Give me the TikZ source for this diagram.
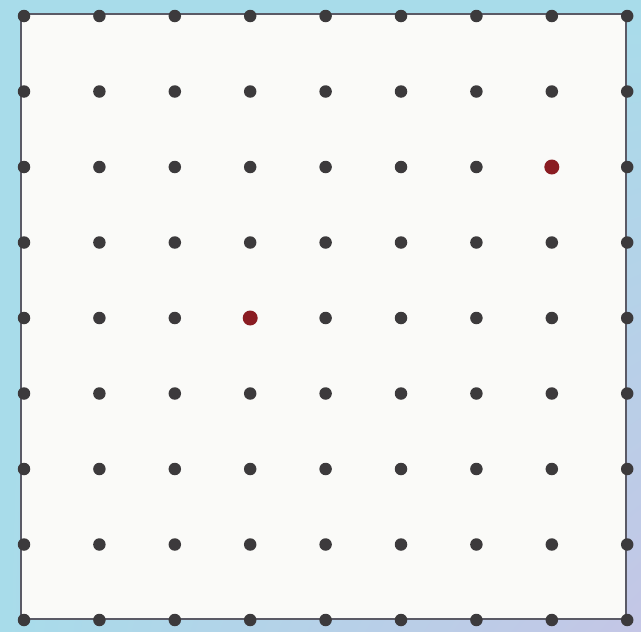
\documentclass[tikz,border=0pt]{standalone}
\usetikzlibrary{shadings}
\definecolor{bgblue}{HTML}{A8DCEA}
\definecolor{bglav}{HTML}{C4C6E6}
\definecolor{paper}{HTML}{FAFAF8}
\definecolor{dotgray}{HTML}{3C3A3C}
\definecolor{dotred}{HTML}{8A1C22}
\definecolor{framegray}{HTML}{5A5A66}
\tikzset{
  peg/.style={circle, fill=dotgray, inner sep=0pt, minimum size=12.5pt},
  redpeg/.style={circle, fill=dotred, inner sep=0pt, minimum size=15pt},
  board/.style={draw=framegray, line width=1.3pt, fill=paper}
}
\begin{document}
\begin{tikzpicture}[x=1pt,y=-1pt]
  \useasboundingbox (0,0) rectangle (641,632);
  \shade[upper left=bgblue, upper right=bgblue, lower left=bgblue, lower right=bglav] (0,0) rectangle (641,632);
  \draw[board] (21,14) rectangle (626,619);
  \foreach \i in {0,...,8} {
    \foreach \j in {0,...,8} {
      \node[peg] (p\i\j) at ({24+75.4*\i},{16+75.5*\j}) {};
    }
  }
  \node[redpeg] (r1) at (p34) {};
  \node[redpeg] (r2) at (p72) {};
\end{tikzpicture}
\end{document}
